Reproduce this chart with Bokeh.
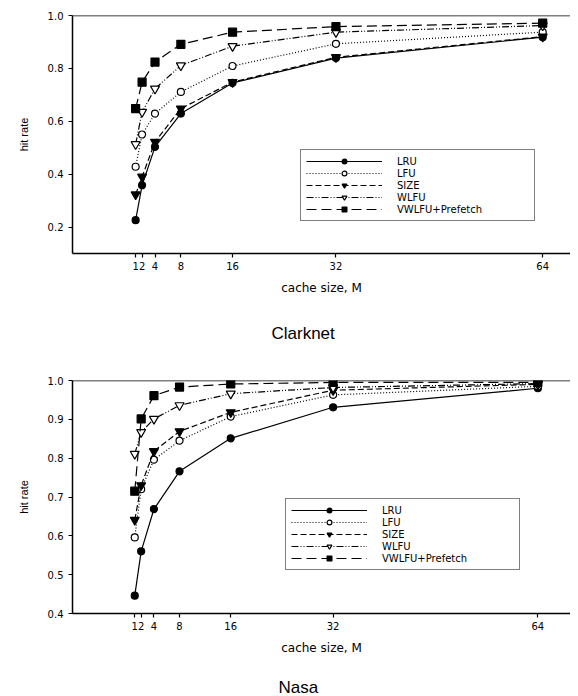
from bokeh.plotting import figure
from bokeh.models import Range1d, FixedTicker, Span, Legend, LegendItem, Title, Label
from bokeh.layouts import column
from bokeh.embed import file_html
from bokeh.resources import INLINE

# ---------------- data ----------------
cache_sizes = [1, 2, 4, 8, 16, 32, 64]
x_tick_labels = ["1", "2", "4", "8", "16", "32", "64"]
policies = ["LRU", "LFU", "SIZE", "WLFU", "VWLFU+Prefetch"]

clarknet_lru = [0.226, 0.358, 0.503, 0.629, 0.745, 0.839, 0.918]
clarknet_lfu = [0.428, 0.550, 0.629, 0.711, 0.809, 0.893, 0.937]
clarknet_size = [0.323, 0.390, 0.522, 0.648, 0.748, 0.842, 0.920]
clarknet_wlfu = [0.513, 0.635, 0.723, 0.811, 0.884, 0.937, 0.962]
clarknet_prefetch = [0.648, 0.748, 0.824, 0.891, 0.937, 0.958, 0.971]
clarknet_yticks = [0.2, 0.4, 0.6, 0.8, 1.0]
clarknet_ytick_labels = ["0.2", "0.4", "0.6", "0.8", "1.0"]

nasa_lru = [0.446, 0.560, 0.669, 0.766, 0.851, 0.931, 0.980]
nasa_lfu = [0.596, 0.720, 0.796, 0.845, 0.907, 0.963, 0.985]
nasa_size = [0.641, 0.730, 0.818, 0.869, 0.918, 0.975, 0.990]
nasa_wlfu = [0.811, 0.867, 0.901, 0.936, 0.966, 0.982, 0.992]
nasa_prefetch = [0.715, 0.901, 0.961, 0.983, 0.991, 0.995, 0.995]
nasa_yticks = [0.4, 0.5, 0.6, 0.7, 0.8, 0.9, 1.0]
nasa_ytick_labels = ["0.4", "0.5", "0.6", "0.7", "0.8", "0.9", "1.0"]

# ---------------- styles ----------------
STYLES = [
    dict(dash="solid", marker="circle", fill="black", size=7),
    dict(dash="1 2", marker="circle", fill="white", size=7),
    dict(dash="6 3", marker="inverted_triangle", fill="black", size=9),
    dict(dash="7 2 1 2 1 2", marker="inverted_triangle", fill="white", size=9),
    dict(dash="10 5", marker="square", fill="black", size=8),
]

TICK_FONT = "DejaVu Sans"
TITLE_FONT = "Liberation Sans"


def make_panel(series, yticks, ytick_labels, x_range, y_range,
               border_left, border_top, border_bottom, height, legend_xy):
    p = figure(width=570, height=height, output_backend="svg",
               toolbar_location=None, x_range=Range1d(*x_range),
               y_range=Range1d(*y_range),
               min_border_left=border_left, min_border_right=0,
               min_border_top=border_top, min_border_bottom=border_bottom)
    p.outline_line_color = None
    p.xgrid.visible = False
    p.ygrid.visible = False
    p.background_fill_color = "white"

    items = []
    for label, vals, st in zip(policies, series, STYLES):
        lr = p.line(cache_sizes, vals, line_color="black", line_width=1.2,
                    line_dash=st["dash"])
        mr = p.scatter(cache_sizes, vals, marker=st["marker"], size=st["size"],
                       fill_color=st["fill"], line_color="black", line_width=1.2)
        items.append(LegendItem(label=label, renderers=[lr, mr]))

    legend = Legend(items=items, location=legend_xy)
    legend.glyph_width = 76
    legend.glyph_height = 12
    legend.label_height = 12
    legend.label_width = 132
    legend.label_standoff = 15
    legend.spacing = 0
    legend.padding = 5
    legend.margin = 0
    legend.border_line_color = "black"
    legend.border_line_width = 1
    legend.background_fill_color = "white"
    legend.background_fill_alpha = 1
    legend.label_text_font = TICK_FONT
    legend.label_text_font_size = "10px"
    legend.label_text_color = "black"
    p.add_layout(legend)

    for ax in (p.xaxis[0], p.yaxis[0]):
        ax.axis_line_color = "black"
        ax.axis_line_width = 1.5
        ax.major_tick_line_color = "black"
        ax.major_tick_line_width = 1.2
        ax.major_tick_out = 4
        ax.major_tick_in = 0
        ax.minor_tick_line_color = None
        ax.major_label_text_font = TICK_FONT
        ax.major_label_text_font_size = "10px"
        ax.major_label_text_color = "black"
        ax.axis_label_text_font_style = "normal"
        ax.axis_label_text_color = "black"

    p.xaxis.ticker = FixedTicker(ticks=cache_sizes)
    p.xaxis.major_label_overrides = dict(zip(cache_sizes, x_tick_labels))
    p.xaxis.major_label_standoff = 4
    p.xaxis.axis_label = "cache size, M"
    p.xaxis.axis_label_text_font = TICK_FONT
    p.xaxis.axis_label_text_font_size = "12px"
    p.xaxis.axis_label_standoff = 8

    p.yaxis.ticker = FixedTicker(ticks=yticks)
    p.yaxis.major_label_overrides = dict(zip(yticks, ytick_labels))
    p.yaxis.major_label_standoff = 5
    p.yaxis.axis_label = "hit rate"
    p.yaxis.axis_label_text_font = "Liberation Sans"
    p.yaxis.axis_label_text_font_size = "11px"
    p.yaxis.axis_label_standoff = 15

    p.add_layout(Span(location=y_range[1], dimension="width",
                      line_color="black", line_width=1.5))
    return p


# --- Clarknet panel (title under the x axis) ---
p1 = make_panel([clarknet_lru, clarknet_lfu, clarknet_size, clarknet_wlfu, clarknet_prefetch],
                clarknet_yticks, clarknet_ytick_labels,
                (-8.77, 68.3), (0.1, 1.0),
                69, 15, 115, 368, (228, 32))
p1.add_layout(Title(text="Clarknet", align="left", offset=199, standoff=48,
                    text_font=TITLE_FONT, text_font_size="17px",
                    text_font_style="normal", text_color="black"), "below")

# --- Nasa panel ---
p2 = make_panel([nasa_lru, nasa_lfu, nasa_size, nasa_wlfu, nasa_prefetch],
                nasa_yticks, nasa_ytick_labels,
                (-8.73, 69.1), (0.4, 1.0),
                72, 12, 45, 290, (213, 43))

# --- strip holding the "Nasa" caption ---
p3 = figure(width=570, height=38, output_backend="svg", toolbar_location=None,
            x_range=Range1d(0, 1), y_range=Range1d(0, 1),
            x_axis_location=None, y_axis_location=None,
            min_border_left=0, min_border_right=0, min_border_top=0,
            min_border_bottom=0)
p3.grid.visible = False
p3.outline_line_color = None
p3.add_layout(Label(x=206, y=9, x_units="screen", y_units="screen",
                    text="Nasa", text_font=TITLE_FONT, text_font_size="17px",
                    text_baseline="middle", text_align="left",
                    text_color="black"))

layout = column(p1, p2, p3, spacing=0)
open("out.html", "w").write(file_html(layout, INLINE))
